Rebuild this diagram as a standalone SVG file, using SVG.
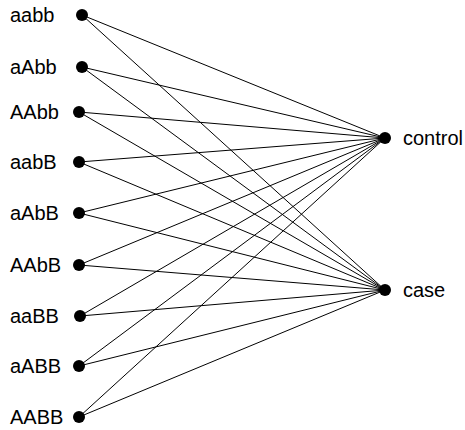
<svg xmlns="http://www.w3.org/2000/svg" width="465" height="430" viewBox="0 0 465 430">
<style>
text{font-family:"Liberation Sans",Arial,sans-serif;font-size:20px;fill:#000}
.e{stroke:#000;stroke-width:1;fill:none}
.d{fill:#000}
</style>
<rect width="465" height="430" fill="#fff"/>
<g id="edges">
<path class="e" d="M82,15L385,138M82,15L385,290"/>
<path class="e" d="M82,67L385,138M82,67L385,290"/>
<path class="e" d="M79,112L385,138M79,112L385,290"/>
<path class="e" d="M79,162L385,138M79,162L385,290"/>
<path class="e" d="M79,213L385,138M79,213L385,290"/>
<path class="e" d="M79,265L385,138M79,265L385,290"/>
<path class="e" d="M80,316L385,138M80,316L385,290"/>
<path class="e" d="M79,366L385,138M79,366L385,290"/>
<path class="e" d="M79,417L385,138M79,417L385,290"/>
</g>
<g id="aabb"><circle class="d" cx="82" cy="15" r="6"/><text x="10" y="21.5">aabb</text></g>
<g id="aAbb"><circle class="d" cx="82" cy="67" r="6"/><text x="10" y="73.5">aAbb</text></g>
<g id="AAbb"><circle class="d" cx="79" cy="112" r="6"/><text x="10" y="118.5">AAbb</text></g>
<g id="aabB"><circle class="d" cx="79" cy="162" r="6"/><text x="10" y="168.5">aabB</text></g>
<g id="aAbB"><circle class="d" cx="79" cy="213" r="6"/><text x="10" y="219.5">aAbB</text></g>
<g id="AAbB"><circle class="d" cx="79" cy="265" r="6"/><text x="10" y="271.5">AAbB</text></g>
<g id="aaBB"><circle class="d" cx="80" cy="316" r="6"/><text x="10" y="322.5">aaBB</text></g>
<g id="aABB"><circle class="d" cx="79" cy="366" r="6"/><text x="10" y="372.5">aABB</text></g>
<g id="AABB"><circle class="d" cx="79" cy="417" r="6"/><text x="10" y="423.5">AABB</text></g>
<g id="control"><circle class="d" cx="385" cy="138" r="6"/><text x="403" y="144.5">control</text></g>
<g id="case"><circle class="d" cx="385" cy="290" r="6"/><text x="403" y="296.5">case</text></g>
</svg>
